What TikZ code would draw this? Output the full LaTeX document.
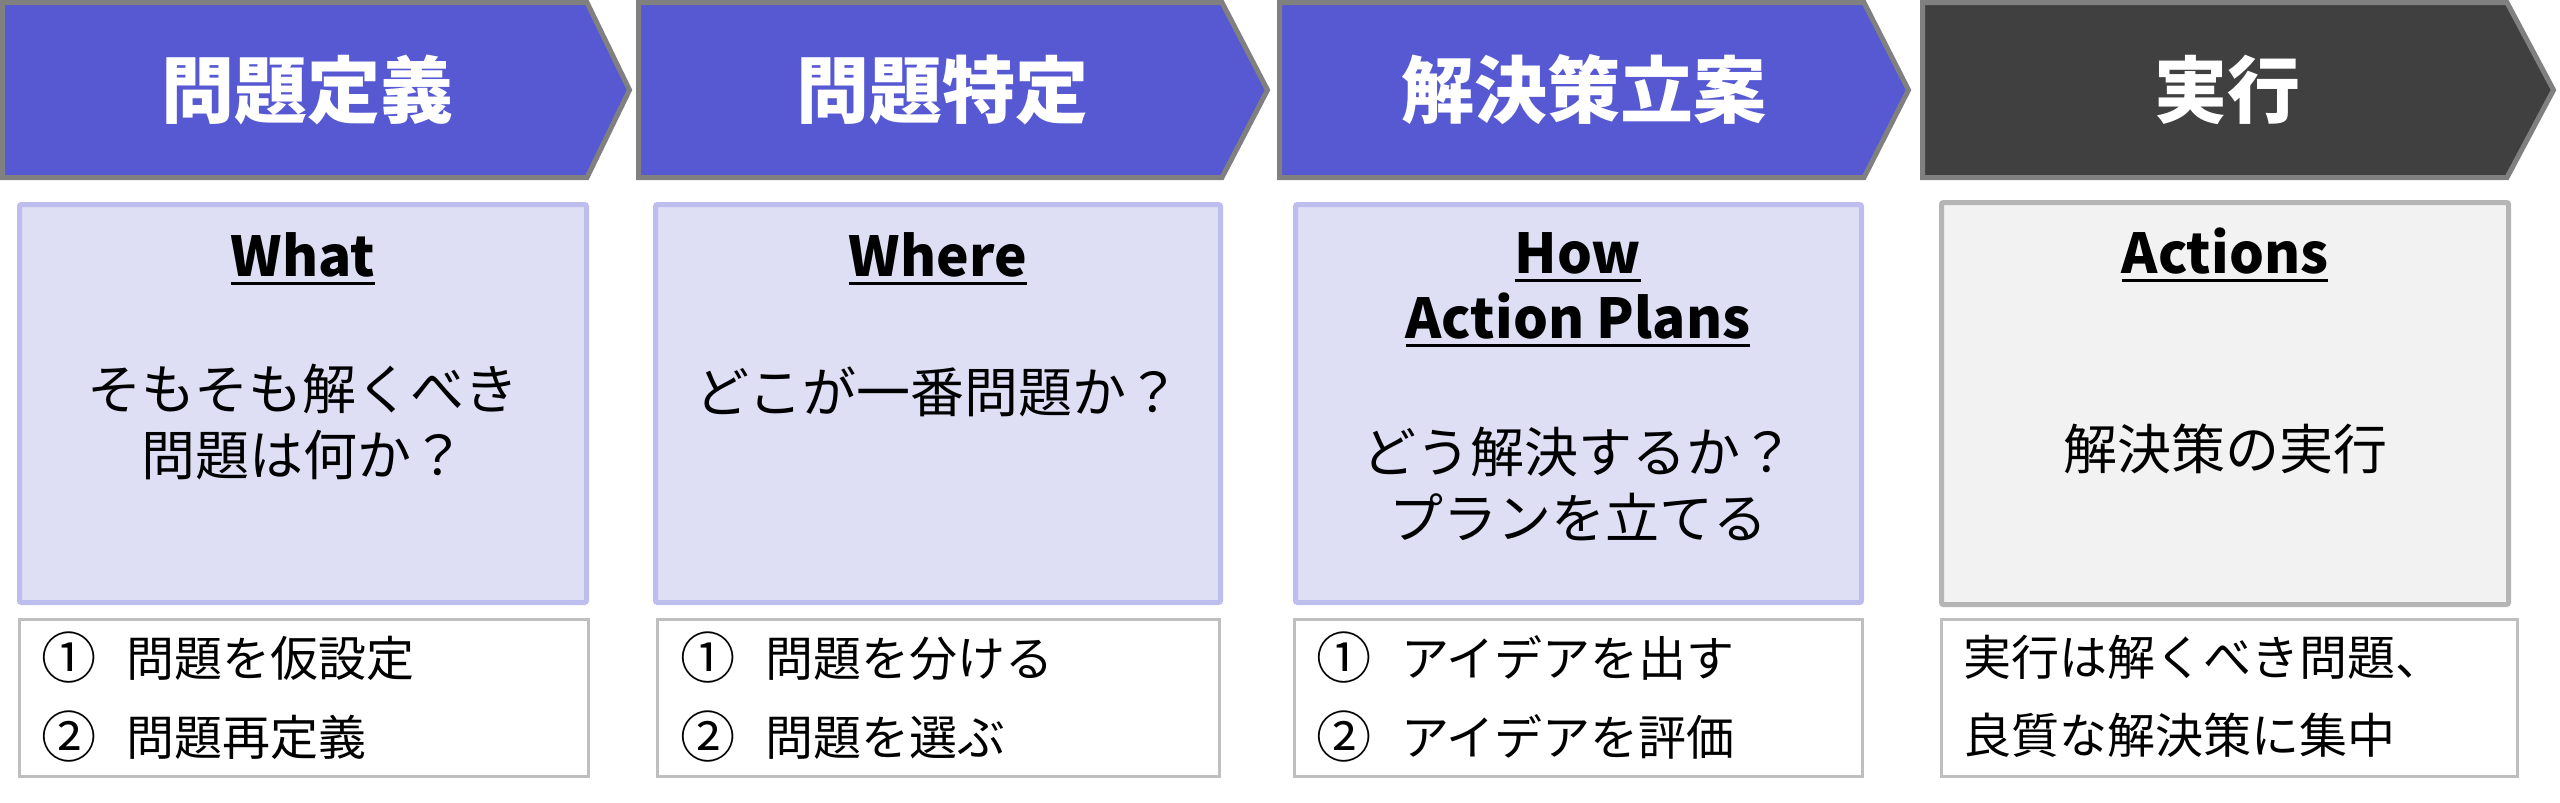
\documentclass[tikz,border=0pt]{standalone}
\usepackage{fontspec}
\setmainfont{Noto Sans CJK JP}
\definecolor{chevblue}{RGB}{86,89,210}
\definecolor{chevgray}{RGB}{128,128,128}
\definecolor{chevdark}{RGB}{64,64,64}
\definecolor{lavfill}{RGB}{222,222,245}
\definecolor{lavline}{RGB}{189,189,238}
\definecolor{grayfill}{RGB}{242,242,242}
\definecolor{grayline}{RGB}{181,181,181}
\definecolor{botline}{RGB}{191,191,191}
\newsavebox\ulbox
\newcommand{\myuline}[1]{\sbox\ulbox{#1}\rlap{\usebox\ulbox}\rule[-9pt]{\wd\ulbox}{3pt}}
\newcommand{\circnum}[1]{\raisebox{-0.06em}{\scalebox{1.15}{#1}}}
\begin{document}
\begin{tikzpicture}[x=1pt,y=-1pt,
  chev/.style={draw=chevgray, line width=5pt, line join=miter},
  title/.style={text=white, font=\fontsize{73}{80}\selectfont\bfseries, inner sep=0pt},
  topbox/.style={draw=lavline, fill=lavfill, line width=5pt, rounded corners=2pt},
  actbox/.style={draw=grayline, fill=grayfill, line width=5pt, rounded corners=2pt},
  botbox/.style={draw=botline, fill=white, line width=3pt},
  head/.style={anchor=base, inner sep=0pt, font=\fontsize{55}{65}\selectfont\bfseries},
  body/.style={align=center, inner sep=0pt, font=\fontsize{54}{66}\selectfont},
  item/.style={anchor=west, inner sep=0pt, font=\fontsize{48}{60}\selectfont}
]
\useasboundingbox (0,0) rectangle (2560,803);
% chevrons
\draw[chev, fill=chevblue] (2.5,2.5) -- (587,2.5) -- (629.5,90) -- (587,177.5) -- (2.5,177.5) -- cycle;
\draw[chev, fill=chevblue] (638.5,2.5) -- (1222,2.5) -- (1267.5,90) -- (1222,177.5) -- (638.5,177.5) -- cycle;
\draw[chev, fill=chevblue] (1279.5,2.5) -- (1864,2.5) -- (1908.5,90) -- (1864,177.5) -- (1279.5,177.5) -- cycle;
\draw[chev, fill=chevdark] (1922.5,2.5) -- (2507,2.5) -- (2553.5,90) -- (2507,177.5) -- (1922.5,177.5) -- cycle;
\node[title] (t1) at (307,90) {問題定義};
\node[title] (t2) at (942,90) {問題特定};
\node[title] (t3) at (1584,90) {解決策立案};
\node[title] (t4) at (2227,90) {実行};
% top boxes
\draw[topbox] (19.5,204.5) rectangle (586.5,602.5);
\draw[topbox] (655.5,204.5) rectangle (1220.5,602.5);
\draw[topbox] (1295.5,204.5) rectangle (1861.5,602.5);
\draw[actbox] (1941.5,202.5) rectangle (2508.5,604.5);
% headings
\node[head] (h1) at (303,276) {\myuline{What}};
\node[head] (h2) at (938,276) {\myuline{Where}};
\node[head] (h3a) at (1578,273) {\myuline{How}};
\node[head] (h3b) at (1578,338) {\myuline{Action Plans}};
\node[head] (h4) at (2225,273) {\myuline{Actions}};
% bodies
\node[body] (d1) at (303,422) {そもそも解くべき\\問題は何か？};
\node[body] (d2) at (938,392) {どこが一番問題か？};
\node[body] (d3) at (1578,484) {どう解決するか？\\プランを立てる};
\node[body] (d4) at (2225,449) {解決策の実行};
% bottom boxes
\draw[botbox] (19.5,619.5) rectangle (588.5,776.5);
\draw[botbox] (657.5,619.5) rectangle (1219.5,776.5);
\draw[botbox] (1294.5,619.5) rectangle (1862.5,776.5);
\draw[botbox] (1941.5,619.5) rectangle (2517.5,776.5);
\node[item] (i1a) at (41,658) {\circnum{①}\hspace{0.62em}問題を仮設定};
\node[item] (i1b) at (41,737) {\circnum{②}\hspace{0.62em}問題再定義};
\node[item] (i2a) at (680,658) {\circnum{①}\hspace{0.62em}問題を分ける};
\node[item] (i2b) at (680,737) {\circnum{②}\hspace{0.62em}問題を選ぶ};
\node[item] (i3a) at (1316,658) {\circnum{①}\hspace{0.62em}アイデアを出す};
\node[item] (i3b) at (1316,737) {\circnum{②}\hspace{0.62em}アイデアを評価};
\node[item] (i4a) at (1963,657) {実行は解くべき問題、};
\node[item] (i4b) at (1963,735) {良質な解決策に集中};
\end{tikzpicture}
\end{document}
